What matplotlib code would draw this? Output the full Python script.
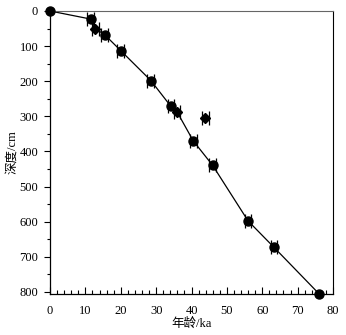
import numpy as np
import matplotlib.pyplot as plt
from matplotlib.ticker import MultipleLocator

plt.rcParams['font.family'] = ['Liberation Serif', 'Noto Sans CJK SC']

# age (ka) and depth (cm) of dated samples
age_c = [0, 11.5, 15.5, 20.0, 28.5, 34.2, 40.5, 46.0, 56.0, 63.3, 76.0]
depth_c = [0, 23, 68, 113, 198, 272, 370, 440, 598, 673, 805]
age_d = [12.8, 35.9, 43.9]
depth_d = [50, 287, 306]
# line through the model points (outlier excluded)
age_line = [0, 11.5, 12.8, 15.5, 20.0, 28.5, 34.2, 35.9, 40.5, 46.0, 56.0, 63.3, 76.0]
depth_line = [0, 23, 50, 68, 113, 198, 272, 287, 370, 440, 598, 673, 805]

fig = plt.figure(figsize=(3.46, 3.35), dpi=100)
ax = fig.add_axes([0.1445, 0.1224, 0.818, 0.8448])

ax.plot(age_line, depth_line, color='black', lw=0.9, zorder=2)
ax.errorbar(age_c[1:-1], depth_c[1:-1], xerr=0.95, fmt='o', color='black',
            ms=6.5, elinewidth=0.8, capsize=4.7, capthick=0.9, zorder=3)
ax.plot([age_c[0], age_c[-1]], [depth_c[0], depth_c[-1]], 'o', color='black', ms=6.5,
        zorder=3, clip_on=False)
ax.errorbar(age_d, depth_d, xerr=0.95, fmt='D', color='black',
            ms=5.5, elinewidth=0.8, capsize=4.7, capthick=0.9, zorder=3)

ax.set_xlim(0, 80)
ax.set_ylim(806, 0)
ax.xaxis.set_major_locator(MultipleLocator(10))
ax.xaxis.set_minor_locator(MultipleLocator(2))
ax.yaxis.set_major_locator(MultipleLocator(100))
ax.yaxis.set_minor_locator(MultipleLocator(50))
ax.tick_params(axis='x', which='major', direction='in', length=5, width=0.8, labelsize=9, pad=8)
ax.tick_params(axis='x', which='minor', direction='in', length=3, width=0.8)
ax.tick_params(axis='y', which='major', direction='out', length=4.5, width=0.8, labelsize=9, pad=4)
ax.tick_params(axis='y', which='minor', direction='out', length=2.2, width=0.8)

ax.spines['top'].set_color('#666666')
ax.spines['top'].set_linewidth(0.8)
ax.spines['right'].set_linewidth(0.8)
for s in ['left', 'bottom']:
    ax.spines[s].set_linewidth(0.9)

ax.set_xlabel('年龄/ka', fontsize=9, labelpad=0)
ax.set_ylabel('深度/cm', fontsize=9, labelpad=1)

fig.savefig('out.png', dpi=100)
